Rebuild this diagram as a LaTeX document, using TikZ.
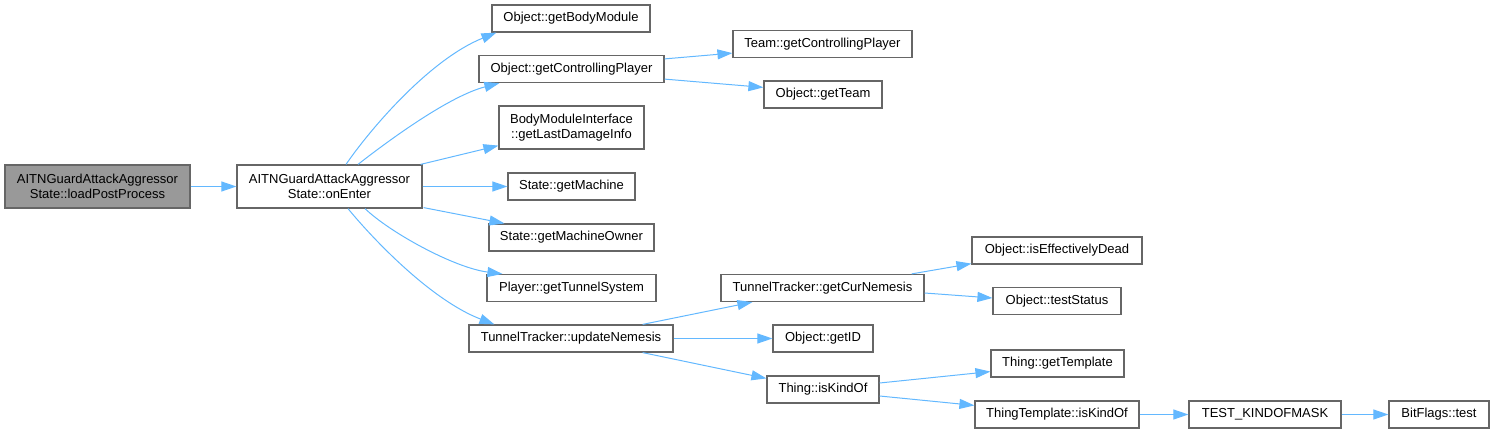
\documentclass[tikz,border=0pt]{standalone}
\usepackage{fontspec}
\setmainfont{Liberation Sans}
\usetikzlibrary{arrows.meta,calc}
\definecolor{edgeblue}{HTML}{63B8FF}
\definecolor{boxgray}{HTML}{666666}
\definecolor{rootfill}{HTML}{999999}
\begin{document}
\begin{tikzpicture}[x=1pt,y=-1pt,
  box/.style={draw=boxgray,line width=1.2pt,fill=white,inner sep=0pt,align=center,
    minimum height=27pt,font=\fontsize{13}{15}\selectfont},
  tall/.style={minimum height=43pt},
  root/.style={fill=rootfill},
  edge/.style={draw=edgeblue,line width=1pt,-{Triangle[length=15pt,width=10pt]}}]
\useasboundingbox (0,0) rectangle (1494,433);
% nodes
\node[box,tall,root,minimum width=185pt] (load) at (97.5,186.5) {AITNGuardAttackAggressor\\State::loadPostProcess};
\node[box,tall,minimum width=185pt] (on) at (329.5,186.5) {AITNGuardAttackAggressor\\State::onEnter};
\node[box,minimum width=158pt] (bm) at (571,18.5) {Object::getBodyModule};
\node[box,minimum width=185pt] (ocp) at (571.5,69) {Object::getControllingPlayer};
\node[box,minimum width=179pt] (tcp) at (822.5,44) {Team::getControllingPlayer};
\node[box,minimum width=118pt] (gt) at (823,94.5) {Object::getTeam};
\node[box,tall,minimum width=145pt] (bmi) at (571.5,127.5) {BodyModuleInterface\\::getLastDamageInfo};
\node[box,minimum width=127pt] (gm) at (571.5,186.5) {State::getMachine};
\node[box,minimum width=165pt] (gmo) at (571.5,237.5) {State::getMachineOwner};
\node[box,minimum width=169pt] (gts) at (571.5,288) {Player::getTunnelSystem};
\node[box,minimum width=204pt] (un) at (571,338.5) {TunnelTracker::updateNemesis};
\node[box,minimum width=203pt] (gcn) at (822.5,288) {TunnelTracker::getCurNemesis};
\node[box,minimum width=100pt] (gid) at (823,338.5) {Object::getID};
\node[box,minimum width=112pt] (ik) at (823,389.5) {Thing::isKindOf};
\node[box,minimum width=170pt] (ied) at (1057,250.5) {Object::isEffectivelyDead};
\node[box,minimum width=128pt] (ts) at (1057,301) {Object::testStatus};
\node[box,minimum width=133pt] (gtp) at (1057.5,363.5) {Thing::getTemplate};
\node[box,minimum width=164pt] (tik) at (1057,414.5) {ThingTemplate::isKindOf};
\node[box,minimum width=152pt] (tkm) at (1265,414.5) {TEST\_KINDOFMASK};
\node[box,minimum width=100pt] (bf) at (1439,414.5) {BitFlags::test};
% edges
\draw[edge] (load) -- (on);
\draw[edge] ($(on.north)+(16.5,0)$) .. controls +(24,-35) and +(-67,27) .. ($(bm.south west)+(5,0)$);
\draw[edge] ($(on.north)+(28.5,0)$) .. controls +(32,-25) and +(-50,13) .. ($(ocp.south west)+(21,0)$);
\draw[edge] ($(on.north east)+(-2,0)$) -- ($(bmi.south west)+(0,-4)$);
\draw[edge] (on) -- (gm);
\draw[edge] ($(on.south east)+(1,-1)$) -- ($(gmo.north west)+(16,0)$);
\draw[edge] ($(on.south)+(35.5,0)$) .. controls +(25,24) and +(-48,-6) .. ($(gts.north west)+(16,0)$);
\draw[edge] ($(on.south)+(18.5,0)$) .. controls +(22,27) and +(-65,-25) .. ($(un.north west)+(26,0)$);
\draw[edge] ($(ocp.north east)+(0,4)$) -- ($(tcp.south west)+(0,-5)$);
\draw[edge] ($(ocp.south east)+(0,-4)$) -- ($(gt.north west)+(0,7)$);
\draw[edge] ($(un.north east)+(-31,0)$) -- ($(gcn.south west)+(32,0)$);
\draw[edge] (un) -- (gid);
\draw[edge] ($(un.south east)+(-31,0)$) -- ($(ik.north west)+(0,3)$);
\draw[edge] ($(gcn.north east)+(-13,0)$) -- ($(ied.south west)+(0,-1)$);
\draw[edge] ($(gcn.east)+(0,5)$) -- ($(ts.west)+(0,-3)$);
\draw[edge] ($(ik.east)+(0,-6.5)$) -- ($(gtp.south west)+(0,-6)$);
\draw[edge] ($(ik.east)+(0,6.5)$) -- ($(tik.north west)+(0,5)$);
\draw[edge] (tik) -- (tkm);
\draw[edge] (tkm) -- (bf);
\end{tikzpicture}
\end{document}
